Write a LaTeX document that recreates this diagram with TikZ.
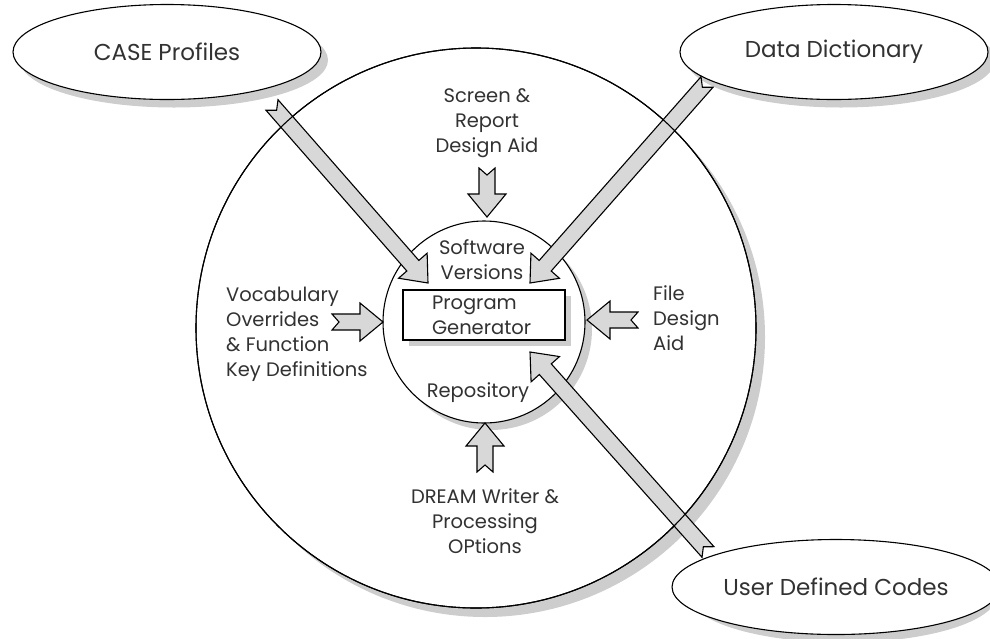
\documentclass[tikz,border=0pt]{standalone}
\usepackage{fontspec}
\setmainfont{Poppins}
\usetikzlibrary{arrows.meta,calc,positioning,shapes.geometric}
\definecolor{arrowgray}{RGB}{216,216,216}
\definecolor{inkgray}{RGB}{50,50,50}
\definecolor{shadowgray}{RGB}{205,205,205}
\tikzset{
  rim/.style={draw,line width=1.1pt,fill=white},
  source/.style={ellipse,rim,minimum width=308pt,minimum height=95pt,
    text=inkgray,font=\fontsize{23}{27}\selectfont},
  lbl/.style={text=inkgray,font=\fontsize{19.5}{25}\selectfont,inner sep=0pt},
}
% fat grey arrow with a notched tail, from #1 (tail) to #2 (tip)
\newcommand{\fatarrow}[2]{%
  \coordinate (hb) at ($(#2)!23pt!(#1)$);
  \coordinate (nt) at ($(#1)!7pt!(#2)$);
  \draw[line width=1.1pt,fill=arrowgray,line join=miter]
    (#2) -- ($(hb)!19pt!90:(#2)$) -- ($(hb)!8pt!90:(#2)$) -- ($(#1)!8pt!90:(#2)$)
    -- (nt) -- ($(#1)!8pt!-90:(#2)$) -- ($(hb)!8pt!-90:(#2)$) -- ($(hb)!19pt!-90:(#2)$) -- cycle;}

\begin{document}
\begin{tikzpicture}[x=1pt,y=-1pt]
\useasboundingbox (0,0) rectangle (990,638);

% system boundary and the core, each over its own shadow
\path[fill=shadowgray] (485,337) circle[radius=280pt];
\node[circle,rim,minimum size=560pt] (outer) at (476,328) {};
\path[fill=shadowgray] (491,329) circle[radius=101pt];
\node[circle,rim,minimum size=202pt] (core) at (484,322) {};
\path[fill=shadowgray] (409,296) rectangle (571,346);
\node[rectangle,rim,minimum width=162pt,minimum height=50pt,
      lbl,align=left,text width=104pt] (gen) at (484,315) {Program\\Generator};
\node[lbl,align=center] (versions) at (482,260) {Software\\Versions};
\node[lbl] (repo) at (478,393) {Repository};

% outside sources
\path[fill=shadowgray] (174,60) ellipse[x radius=154pt,y radius=47.5pt];
\node[source] (case) at (167,52) {CASE Profiles};
\path[fill=shadowgray] (841,60) ellipse[x radius=154pt,y radius=47.5pt];
\node[source] (dict) at (834,52) {Data Dictionary};
\path[fill=shadowgray] (843,595) ellipse[x radius=154pt,y radius=47.5pt];
\node[source] (codes) at (836,587) {User Defined Codes};

% arrow ends
\coordinate (caseT) at (272,105);  \coordinate (caseH) at (428,283);
\coordinate (dictT) at (707,82);   \coordinate (dictH) at (530,283);
\coordinate (codesT) at (708,552); \coordinate (codesH) at (530,352);
\coordinate (scrT) at (487,168);   \coordinate (scrH) at (487,217);
\coordinate (fileT) at (638,320);  \coordinate (fileH) at (587,320);
\coordinate (vocT) at (332,322);   \coordinate (vocH) at (383,322);
\coordinate (drmT) at (485,472);   \coordinate (drmH) at (485,423);

\fatarrow{caseT}{caseH}
\fatarrow{dictT}{dictH}
\fatarrow{codesT}{codesH}
\fatarrow{scrT}{scrH}
\fatarrow{fileT}{fileH}
\fatarrow{vocT}{vocH}
\fatarrow{drmT}{drmH}

% outer rim goes over the long arrows
\draw[line width=1.1pt] (outer.center) circle[radius=280pt];

% inside design aids
\node[lbl,align=center,above=10pt of scrT] (screen) {Screen \&\\Report\\Design Aid};
\node[lbl,align=left,anchor=west] (filed) at (653,318) {File\\Design\\Aid};
\node[lbl,align=left,anchor=west] (vocab) at (226,334) {Vocabulary\\Overrides\\\& Function\\Key Definitions};
\node[lbl,align=center,below=16pt of drmT] (dream) {DREAM Writer \&\\Processing\\OPtions};
\end{tikzpicture}
\end{document}
